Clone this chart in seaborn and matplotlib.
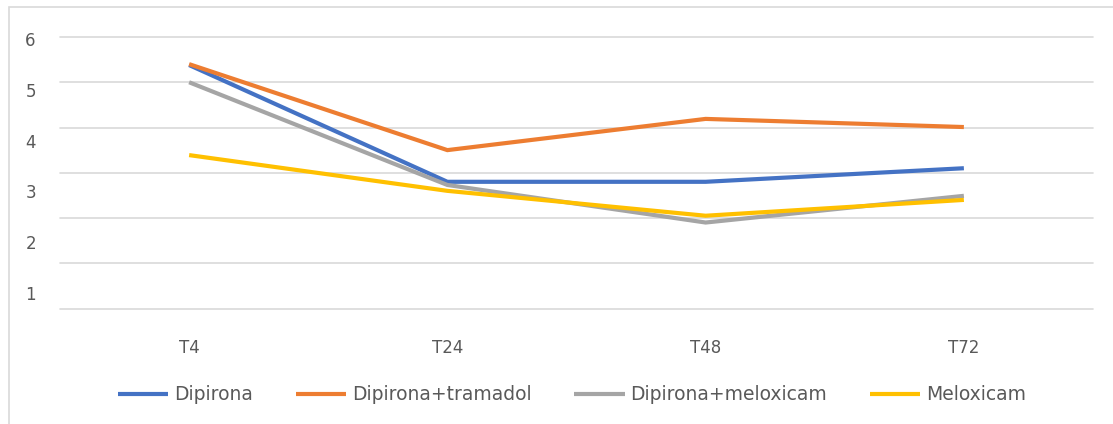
import matplotlib
matplotlib.use("Agg")
import matplotlib.pyplot as plt
from matplotlib.patches import Rectangle
import numpy as np
import pandas as pd
import seaborn as sns

# Time points and mean scores per treatment group
timepoints = ["T4", "T24", "T48", "T72"]
dipirona = [5.38, 2.80, 2.80, 3.10]
dipirona_tramadol = [5.40, 3.50, 4.19, 4.01]
dipirona_meloxicam = [5.00, 2.73, 1.90, 2.49]
meloxicam = [3.39, 2.60, 2.05, 2.40]

series_names = ["Dipirona", "Dipirona+tramadol", "Dipirona+meloxicam", "Meloxicam"]
series_values = [dipirona, dipirona_tramadol, dipirona_meloxicam, meloxicam]
colors = ["#4472C4", "#ED7D31", "#A5A5A5", "#FFC000"]
ytick_labels = ["1", "2", "3", "4", "5", "6"]

df = pd.DataFrame({
    "tempo": np.tile(timepoints, len(series_names)),
    "valor": np.concatenate(series_values),
    "grupo": np.repeat(series_names, len(timepoints)),
})

sns.set_theme(style="white")
plt.rcParams["font.family"] = ["DejaVu Sans"]
text_color = "#595959"
grid_color = "#D9D9D9"

W, H = 1113, 424
fig = plt.figure(figsize=(W / 100, H / 100), dpi=100)
ax = fig.add_axes([60 / W, (H - 308.5) / H, (1093 - 60) / W, (308.5 - 37) / H])

sns.lineplot(data=df, x="tempo", y="valor", hue="grupo", hue_order=series_names,
             palette=colors, sort=False, linewidth=3.0, ax=ax, legend=True,
             estimator=None)
for ln in ax.lines:
    ln.set_solid_capstyle("butt")
    ln.set_solid_joinstyle("miter")

ax.set_xlim(-0.5, len(timepoints) - 0.5)
ax.set_ylim(0, 6)
ax.set_xlabel("")
ax.set_ylabel("")

# horizontal gridlines on the major ticks, labels on a separate minor set
ax.set_yticks(np.arange(0, 7, 1))
ax.set_yticklabels([])
ax.yaxis.grid(True, color=grid_color, linewidth=1.2)
for gl in ax.get_ygridlines():
    gl.set_clip_on(False)
label_pos = [6 * (0.057 + i * 0.1872) for i in range(len(ytick_labels))]
ax.set_yticks(label_pos, ytick_labels, minor=True)
ax.tick_params(axis="y", which="both", length=0, pad=25, labelsize=12,
               labelcolor=text_color)
for t in ax.get_yticklabels(minor=True):
    t.set_horizontalalignment("left")
ax.tick_params(axis="x", length=0, pad=22, labelsize=12, labelcolor=text_color)
for sp in ax.spines.values():
    sp.set_visible(False)

handles, labels = ax.get_legend_handles_labels()
ax.get_legend().remove()
leg = fig.legend(handles, labels, loc="center", bbox_to_anchor=(572 / W, (H - 395) / H),
                 ncol=4, frameon=False, handlelength=2.67, handletextpad=0.3,
                 columnspacing=2.3, fontsize=13.5)
for t in leg.get_texts():
    t.set_color(text_color)
for h in leg.get_lines():
    h.set_linewidth(3.0)

# chart area border
fig.patches.append(Rectangle((9 / W, -0.1), 1.2, 1.1 - 7 / H, transform=fig.transFigure,
                             fill=False, edgecolor=grid_color, linewidth=1.2))

fig.savefig("out.png", dpi=100)
